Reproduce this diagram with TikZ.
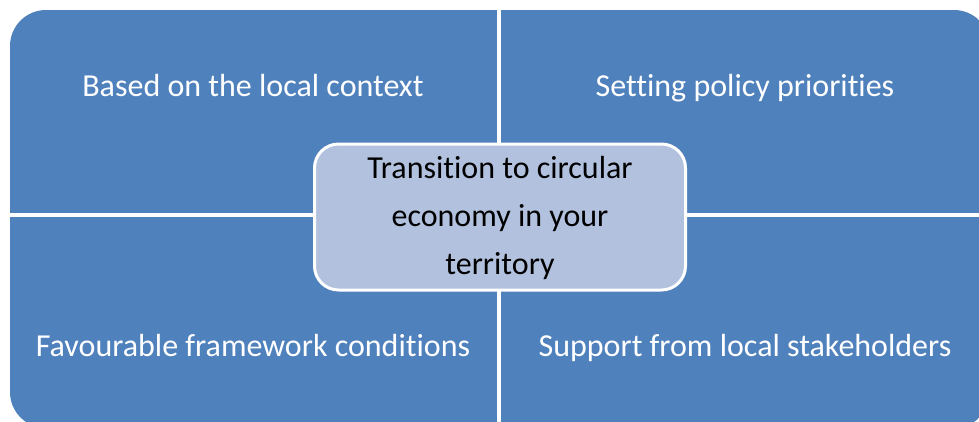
\documentclass[tikz,border=0pt]{standalone}
\usepackage{fontspec}
\setmainfont{Carlito}[RawFeature=-liga]
\definecolor{quadblue}{HTML}{4F81BD}
\definecolor{centerfill}{HTML}{B1C1DE}
\begin{document}
\begin{tikzpicture}[x=1pt,y=-1pt,
  quadtext/.style={text=white,font=\fontsize{32}{38}\selectfont,inner sep=0pt,anchor=base},
  centerbox/.style={draw=white,line width=3pt,fill=centerfill,rounded corners=24pt,
    minimum width=371pt,minimum height=146pt,inner sep=0pt},
  centertext/.style={text=black,font=\fontsize{32}{48}\selectfont,align=center,inner sep=0pt,anchor=base}]
\useasboundingbox (0,0) rectangle (979,421);
\begin{scope}
\clip[rounded corners=36pt] (10,10) rectangle (990,428);
\fill[quadblue] (10,10) rectangle (497,213);
\fill[quadblue] (501,10) rectangle (990,213);
\fill[quadblue] (10,217) rectangle (497,428);
\fill[quadblue] (501,217) rectangle (990,428);
\end{scope}
\node[quadtext] (tl) at (253,96) {Based on the local context};
\node[quadtext] (tr) at (745,96) {Setting policy priorities};
\node[quadtext] (bl) at (253,356) {Favourable framework conditions};
\node[quadtext] (br) at (745,356) {Support from local stakeholders};
\node[centerbox] (c) at (500,217) {};
\node[centertext] (ct) at (500,274) {Transition to circular\\economy in your\\territory};
\end{tikzpicture}
\end{document}
